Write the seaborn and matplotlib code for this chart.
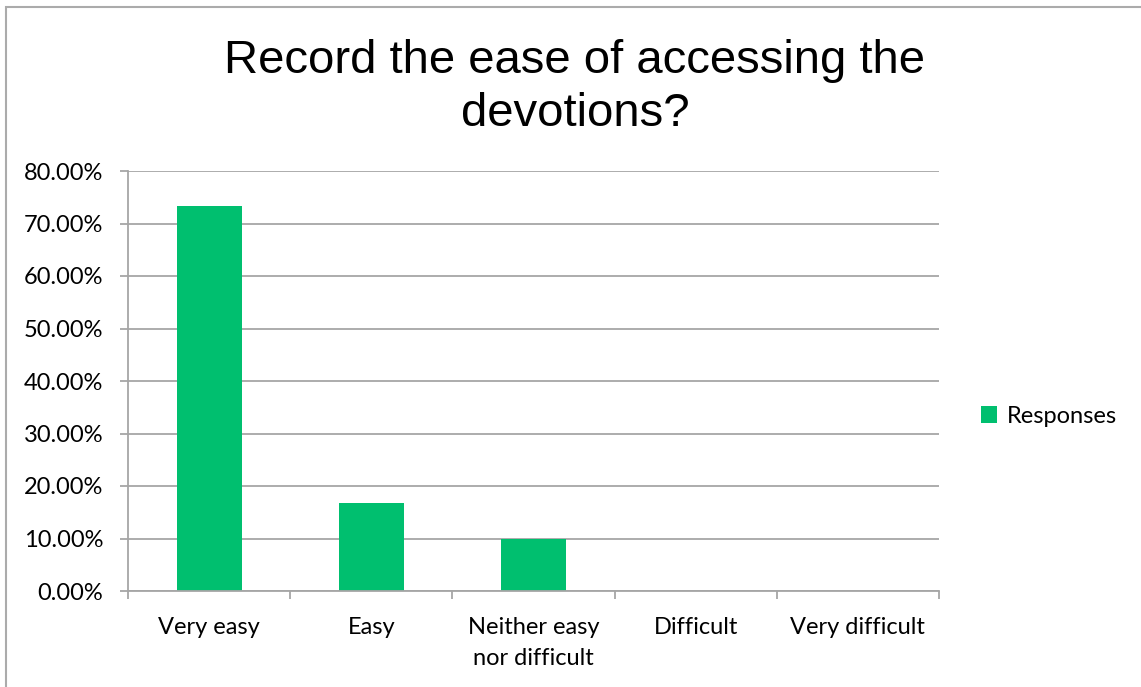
import matplotlib
matplotlib.use("Agg")
import matplotlib.pyplot as plt
import seaborn as sns
import numpy as np
from matplotlib.patches import Rectangle, Patch
from matplotlib.ticker import FuncFormatter, FixedLocator

categories = ["Very easy", "Easy", "Neither easy\nnor difficult", "Difficult", "Very difficult"]
responses = [73.33, 16.67, 10.00, 0.0, 0.0]
series_name = "Responses"
title_text = "Record the ease of accessing the\ndevotions?"

bar_color = "#00BF6F"
grid_color = "#A6A6A6"

sns.set_theme(style="white")
plt.rcParams["font.family"] = ["Lato", "DejaVu Sans"]
plt.rcParams["text.color"] = "black"

fig = plt.figure(figsize=(11.41, 6.87), dpi=100)
ax = fig.add_axes([128 / 1141, 1 - 591 / 687, (939 - 128) / 1141, (591 - 171) / 687])

sns.barplot(x=categories, y=responses, color=bar_color, width=0.4,
            saturation=1, linewidth=0, ax=ax)

ax.set_xlim(-0.5, len(categories) - 0.5)
ax.set_ylim(0, 80)
ax.set_yticks(np.arange(0, 81, 10))
ax.yaxis.set_major_formatter(FuncFormatter(lambda v, p: f"{v:.2f}%"))
ax.grid(axis="y", color=grid_color, linewidth=1.3)
ax.set_axisbelow(True)
ax.set_xlabel("")
ax.set_ylabel("")

for s in ["top", "right"]:
    ax.spines[s].set_visible(False)
for s in ["left", "bottom"]:
    ax.spines[s].set_color(grid_color)
    ax.spines[s].set_linewidth(1.3)

ax.tick_params(axis="y", length=5.8, width=1.3, color=grid_color, pad=12,
               labelsize=17, labelcolor="black", left=True, direction="out")
ax.tick_params(axis="x", which="major", length=0, pad=19, labelsize=17,
               labelcolor="black")
ax.xaxis.set_minor_locator(FixedLocator(np.arange(-0.5, len(categories), 1.0)))
ax.tick_params(axis="x", which="minor", length=5.8, width=1.3, color=grid_color,
               bottom=True, direction="out")
for lbl in ax.get_xticklabels():
    lbl.set_verticalalignment("top")
    lbl.set_linespacing(1.55)

fig.text(575 / 1141, 1 - 39 / 687, title_text, ha="center", va="top",
         fontsize=34, color="black", family=["Liberation Sans", "DejaVu Sans"],
         linespacing=1.25)

handle = Patch(facecolor=bar_color, edgecolor="none")
fig.legend([handle], [series_name], loc="center left",
           bbox_to_anchor=(962 / 1141, 1 - 416 / 687), frameon=False,
           fontsize=17, handlelength=0.7, handleheight=0.7, handletextpad=0.4,
           borderpad=0.3)

fig.patches.append(Rectangle((6 / 1141, -0.1), 1.2, 1.1 - 7 / 687,
                             transform=fig.transFigure, fill=False,
                             edgecolor="#ABABAB", linewidth=1.5))

fig.savefig("out.png", dpi=100, facecolor="white")
